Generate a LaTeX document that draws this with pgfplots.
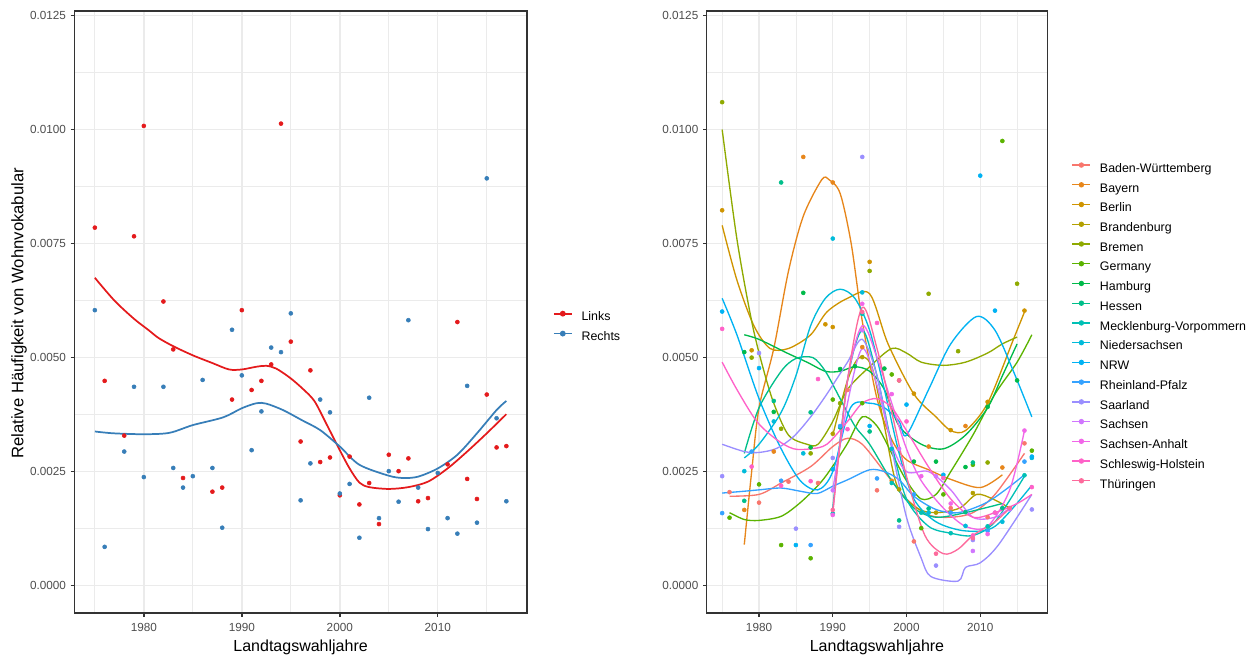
\documentclass[border=0pt]{standalone}
\usepackage{fontspec}
\setmainfont{Liberation Sans}
\usepackage{pgfplots}
\pgfplotsset{compat=1.18}
\definecolor{gridc}{HTML}{EBEBEB}
\definecolor{border}{HTML}{333333}
\definecolor{ticklab}{HTML}{4D4D4D}
\definecolor{linksred}{HTML}{E41A1C}
\definecolor{rechtsblue}{HTML}{377EB8}
\definecolor{c1}{HTML}{F8766D}
\definecolor{c2}{HTML}{E7861B}
\definecolor{c3}{HTML}{CF9400}
\definecolor{c4}{HTML}{B3A000}
\definecolor{c5}{HTML}{8FAA00}
\definecolor{c6}{HTML}{5BB300}
\definecolor{c7}{HTML}{00BA4A}
\definecolor{c8}{HTML}{00BF8A}
\definecolor{c9}{HTML}{00C0B5}
\definecolor{c10}{HTML}{00BBDA}
\definecolor{c11}{HTML}{00B2F3}
\definecolor{c12}{HTML}{35A2FF}
\definecolor{c13}{HTML}{9A8EFF}
\definecolor{c14}{HTML}{D076FE}
\definecolor{c15}{HTML}{F166E8}
\definecolor{c16}{HTML}{FF61C8}
\definecolor{c17}{HTML}{FD6A9C}
\pgfplotsset{
  common/.style={
    anchor=south west, scale only axis, height=451.5pt,
    xmin=1972.9, xmax=2019.1, ymin=-0.0006, ymax=0.0126,
    xtick={1980,1990,2000,2010}, minor xtick={1975,1985,1995,2005,2015},
    ytick={0,0.0025,0.005,0.0075,0.01,0.0125},
    minor ytick={0.00125,0.00375,0.00625,0.00875,0.01125},
    grid=both,
    major grid style={line width=1.07pt, color=gridc},
    minor grid style={line width=0.53pt, color=gridc},
    axis line style={line width=1.07pt, color=border},
    tick align=outside, tick pos=left,
    major tick length=2.75pt, minor tick length=0pt,
    major tick style={line width=1.07pt, color=border},
    scaled y ticks=false,
    /pgf/number format/assume math mode=true,
    yticklabel style={/pgf/number format/.cd, fixed, fixed zerofill, precision=4, /tikz/.cd,
      font=\fontsize{8.8}{10}\selectfont, text=ticklab},
    xticklabel style={/pgf/number format/1000 sep={}, font=\fontsize{8.8}{10}\selectfont, text=ticklab, yshift=-1.1pt},
    xlabel={Landtagswahljahre},
    xlabel style={at={(axis description cs:0.5,0)}, anchor=center, yshift=-25.6pt,
      font=\fontsize{12}{14}\selectfont},
    legend style={draw=none, fill=none, inner sep=0pt, outer sep=0pt, row sep=5.55pt,
      nodes={inner sep=0pt, text height=6.3pt, text depth=1.8pt, font=\fontsize{9.3}{11}\selectfont},
      cells={anchor=west}},
    legend image code/.code={\draw[##1] (0pt,3.2pt) -- (13.5pt,3.2pt); \fill[##1] (6.75pt,3.2pt) circle (1.5pt); \path (20.2pt,3.2pt);},
  },
  pts/.style={only marks, mark=*, mark size=1.5pt, forget plot},
  cur/.style={smooth, no marks, line width=1.0pt},
}
\begin{document}
\begin{tikzpicture}
\useasboundingbox (0,0) rectangle (942pt,492pt);
% ---------------- left panel ----------------
\begin{axis}[common, at={(55.7pt,32.25pt)}, width=339.5pt,
  legend style={at={(1.0574,0.502)}, anchor=north west}]
\addplot[pts, color=linksred] coordinates {
(1975,0.00785) (1976,0.00449) (1978,0.00329) (1979,0.00766) (1980,0.01008) (1982,0.00623)
(1983,0.00518) (1984,0.00236) (1987,0.00206) (1988,0.00215) (1989,0.00408) (1990,0.00604)
(1991,0.00429) (1992,0.00449) (1993,0.00485) (1994,0.01013) (1995,0.00535) (1996,0.00316)
(1997,0.00472) (1998,0.00271) (1999,0.00281) (2000,0.00198) (2001,0.00283) (2002,0.00178)
(2003,0.00225) (2004,0.00135) (2005,0.00287) (2006,0.00251) (2007,0.00279) (2008,0.00185)
(2009,0.00192) (2011,0.00266) (2012,0.00578) (2013,0.00234) (2014,0.00190) (2015,0.00419)
(2016,0.00303) (2017,0.00306)};
\addplot[pts, color=rechtsblue] coordinates {
(1975,0.00604) (1976,0.00085) (1978,0.00294) (1979,0.00436) (1980,0.00238) (1982,0.00436)
(1983,0.00258) (1984,0.00215) (1985,0.00240) (1986,0.00451) (1987,0.00258) (1988,0.00127)
(1989,0.00561) (1990,0.00461) (1991,0.00297) (1992,0.00382) (1993,0.00522) (1994,0.00512)
(1995,0.00597) (1996,0.00187) (1997,0.00268) (1998,0.00408) (1999,0.00380) (2000,0.00202)
(2001,0.00223) (2002,0.00105) (2003,0.00412) (2004,0.00148) (2005,0.00251) (2006,0.00184)
(2007,0.00582) (2008,0.00215) (2009,0.00124) (2010,0.00247) (2011,0.00148) (2012,0.00114)
(2013,0.00438) (2014,0.00138) (2015,0.00893) (2016,0.00367) (2017,0.00185)};
\addplot[cur, line width=1.3pt, color=linksred] coordinates {
(1975,0.00675) (1977,0.00625) (1979,0.00585) (1980.5,0.00560) (1981.5,0.00543) (1983,0.00525)
(1985,0.00505) (1987,0.00488) (1988.7,0.00474) (1990,0.00474) (1991.5,0.00480) (1992.5,0.00482)
(1993.5,0.00476) (1994.9,0.00456) (1996.2,0.00432) (1997.4,0.00405) (1998.6,0.00356) (2000,0.00297)
(2001,0.00257) (2002,0.00226) (2003,0.00216) (2005,0.00212) (2007,0.00216) (2009,0.00228)
(2011,0.00257) (2013,0.00294) (2015,0.00334) (2017,0.00376)};
\addlegendentry{Links}
\addplot[cur, line width=1.3pt, color=rechtsblue] coordinates {
(1975,0.00338) (1976.9,0.00334) (1980,0.00332) (1982.6,0.00335) (1985,0.00352) (1988.1,0.00369)
(1990,0.00389) (1991.5,0.00400) (1992.5,0.00399) (1994.2,0.00385) (1996.2,0.00362) (1998,0.00341)
(2000,0.00305) (2002,0.00265) (2005,0.00241) (2006.5,0.00236) (2008,0.00239) (2010,0.00257)
(2012,0.00287) (2014,0.00334) (2016,0.00385) (2017,0.00405)};
\addlegendentry{Rechts}
\end{axis}
% ---------------- right panel ----------------
\begin{axis}[common, at={(530pt,32.25pt)}, width=255.5pt,
  legend style={at={(1.0716,0.7485)}, anchor=north west}]
% points
\addplot[pts, color=c1] coordinates {(1976,0.00205) (1980,0.00182) (1984,0.00228) (1988,0.00225) (1992,0.00429) (1996,0.00209) (2001,0.00097) (2006,0.0017) (2011,0.0015) (2016,0.00312)};
\addplot[pts, color=c2] coordinates {(1978,0.00166) (1982,0.00294) (1986,0.0094) (1990,0.00884) (1994,0.00523) (1998,0.0023) (2003,0.00305) (2008,0.0035) (2013,0.00259)};
\addplot[pts, color=c3] coordinates {(1975,0.00823) (1979,0.00516) (1989,0.00573) (1990,0.00567) (1995,0.0071) (2001,0.00421) (2006,0.00341) (2011,0.00403) (2016,0.00603)};
\addplot[pts, color=c4] coordinates {(1990,0.00333) (1994,0.00501) (1999,0.00211) (2004,0.0016) (2009,0.00203) (2014,0.0017)};
\addplot[pts, color=c5] coordinates {(1975,0.0106) (1979,0.0050) (1983,0.00344) (1987,0.0029) (1991,0.0040) (1995,0.0069) (1999,0.0045) (2003,0.0064) (2007,0.00514) (2011,0.0027) (2015,0.00662)};
\addplot[pts, color=c6] coordinates {(1976,0.00149) (1980,0.00222) (1983,0.00089) (1987,0.0006) (1990,0.00408) (1994,0.0040) (1998,0.00463) (2002,0.00126) (2005,0.0020) (2009,0.00265) (2013,0.00975) (2017,0.00296)};
\addplot[pts, color=c7] coordinates {(1978,0.00512) (1982,0.00381) (1986,0.00642) (1987,0.00303) (1991,0.00475) (1993,0.00481) (1997,0.00476) (2001,0.00272) (2004,0.00272) (2008,0.0026) (2011,0.00392) (2015,0.0045)};
\addplot[pts, color=c8] coordinates {(1978,0.00186) (1982,0.00405) (1983,0.00884) (1987,0.0038) (1991,0.00347) (1995,0.00338) (1999,0.00143) (2003,0.00169) (2008,0.00161) (2009,0.0027) (2013,0.0017)};
\addplot[pts, color=c9] coordinates {(1990,0.00158) (1994,0.00596) (1998,0.00225) (2002,0.0016) (2006,0.00115) (2011,0.0013) (2016,0.00242)};
\addplot[pts, color=c10] coordinates {(1978,0.00251) (1982,0.0036) (1986,0.0029) (1990,0.00761) (1994,0.00643) (1998,0.0030) (2003,0.0016) (2008,0.00131) (2013,0.0014) (2017,0.0028)};
\addplot[pts, color=c11] coordinates {(1975,0.00601) (1980,0.00477) (1985,0.00089) (1990,0.00255) (1995,0.0035) (2000,0.00397) (2005,0.00243) (2010,0.00899) (2012,0.00603) (2017,0.00283)};
\addplot[pts, color=c12] coordinates {(1975,0.00159) (1979,0.00294) (1983,0.0023) (1987,0.00089) (1991,0.0035) (1996,0.00235) (2001,0.0020) (2006,0.0016) (2011,0.0012) (2016,0.00272)};
\addplot[pts, color=c13] coordinates {(1975,0.0024) (1980,0.0051) (1985,0.00125) (1990,0.0028) (1994,0.0094) (1999,0.00129) (2004,0.00044) (2009,0.0010) (2012,0.0016) (2017,0.00167)};
\addplot[pts, color=c14] coordinates {(1990,0.00209) (1994,0.0056) (1999,0.0030) (2004,0.0024) (2009,0.00076) (2014,0.00167)};
\addplot[pts, color=c15] coordinates {(1990,0.00155) (1994,0.00618) (1998,0.0042) (2002,0.0024) (2006,0.0018) (2011,0.00113) (2016,0.0034)};
\addplot[pts, color=c16] coordinates {(1975,0.00563) (1979,0.00261) (1983,0.00219) (1987,0.00229) (1988,0.00453) (1992,0.00343) (1996,0.00576) (2000,0.0036) (2005,0.00236) (2009,0.0011) (2012,0.0016) (2017,0.00216)};
\addplot[pts, color=c17] coordinates {(1990,0.00166) (1994,0.0060) (1999,0.0045) (2004,0.0007) (2009,0.00104) (2014,0.0017)};
% curves
\addplot[cur, color=c1] coordinates {(1976,0.00196) (1980,0.0020) (1983,0.00225) (1987,0.00261) (1990,0.00305) (1992,0.00323) (1994,0.0031) (1997,0.0025) (2000,0.0019) (2003,0.00155) (2006,0.0015) (2009,0.0016) (2012,0.0020) (2016,0.0029)};
\addlegendentry{Baden-Württemberg}
\addplot[cur, color=c2] coordinates {(1978,0.0009) (1979,0.0025) (1980,0.0039) (1982,0.0052) (1984,0.0069) (1986,0.0081) (1988.5,0.0089) (1989.5,0.0089) (1991,0.0086) (1992.5,0.0075) (1994,0.0058) (1996,0.0041) (1998,0.0032) (2000,0.00276) (2003,0.00254) (2006,0.00233) (2010,0.00215) (2013,0.00243)};
\addlegendentry{Bayern}
\addplot[cur, color=c3] coordinates {(1975,0.0079) (1977,0.0067) (1979.3,0.0057) (1981.5,0.0052) (1984,0.0052) (1987,0.0055) (1989.2,0.0060) (1992,0.0063) (1995,0.0064) (1997.5,0.0053) (2001,0.0042) (2004,0.0037) (2006,0.0034) (2008,0.0034) (2011,0.0040) (2014.5,0.0054) (2016,0.0060)};
\addlegendentry{Berlin}
\addplot[cur, color=c4] coordinates {(1990,0.0033) (1992,0.0045) (1993.6,0.0050) (1995.3,0.0048) (1997,0.0035) (1998.7,0.0022) (2001.4,0.0017) (2004,0.0016) (2007.2,0.0017) (2009.5,0.0020) (2011.7,0.0019) (2014,0.0017)};
\addlegendentry{Brandenburg}
\addplot[cur, color=c5] coordinates {(1975,0.0100) (1977,0.0076) (1979,0.0058) (1980.5,0.0048) (1982,0.0040) (1984,0.0033) (1986.5,0.0031) (1988,0.0031) (1990,0.0036) (1992,0.0043) (1995,0.0048) (1998,0.0052) (2000,0.0051) (2002,0.0049) (2005,0.00483) (2008,0.0049) (2011,0.0051) (2013,0.0053) (2015,0.00545)};
\addlegendentry{Bremen}
\addplot[cur, color=c6] coordinates {(1976,0.0016) (1978,0.00145) (1980,0.00143) (1983,0.00152) (1985.6,0.00182) (1988.3,0.00225) (1990,0.00262) (1992,0.00312) (1994,0.0037) (1996,0.0035) (1998,0.0029) (2000,0.0023) (2002,0.0019) (2004,0.0020) (2006,0.0025) (2009,0.0033) (2012,0.0042) (2015,0.0049) (2017,0.0055)};
\addlegendentry{Germany}
\addplot[cur, color=c7] coordinates {(1978,0.0055) (1980,0.0054) (1983.8,0.0051) (1986.5,0.0049) (1989,0.0047) (1991,0.0047) (1993,0.0048) (1995,0.0047) (1997,0.0043) (1999,0.0035) (2002,0.0031) (2005,0.0030) (2008,0.0033) (2011,0.0039) (2013,0.0046) (2015,0.0053)};
\addlegendentry{Hamburg}
\addplot[cur, color=c8] coordinates {(1978,0.0029) (1980,0.0039) (1983,0.0047) (1985,0.00498) (1987.3,0.0050) (1989,0.0047) (1991,0.0041) (1993,0.0035) (1995,0.0031) (1998,0.0023) (2001,0.0017) (2004,0.0015) (2008,0.0016) (2013,0.0018)};
\addlegendentry{Hessen}
\addplot[cur, color=c9] coordinates {(1990,0.0017) (1992,0.0045) (1994,0.0056) (1996,0.0046) (1998,0.0031) (2000,0.0019) (2003,0.0013) (2006,0.00115) (2009,0.0011) (2012,0.0014) (2016,0.0024)};
\addlegendentry{Mecklenburg-Vorpommern}
\addplot[cur, color=c10] coordinates {(1978,0.0028) (1980,0.0031) (1983,0.0038) (1985,0.0046) (1987,0.0057) (1989,0.0063) (1991,0.0065) (1993,0.0063) (1995,0.0056) (1997,0.0043) (1999,0.0029) (2001,0.0019) (2004,0.0014) (2008,0.0012) (2012,0.0013) (2017,0.0022)};
\addlegendentry{Niedersachsen}
\addplot[cur, color=c11] coordinates {(1975,0.0063) (1977,0.0055) (1980,0.0041) (1983,0.0030) (1985.6,0.0023) (1988,0.0021) (1990,0.0025) (1992.4,0.0039) (1995,0.0040) (1997,0.0039) (1999,0.0036) (2000,0.0033) (2003,0.0043) (2006,0.0053) (2009.5,0.0059) (2012,0.0056) (2014.5,0.0047) (2017,0.0037)};
\addlegendentry{NRW}
\addplot[cur, color=c12] coordinates {(1975,0.00203) (1978,0.00207) (1980,0.0021) (1983,0.00214) (1985.6,0.00207) (1987.9,0.00202) (1990,0.00218) (1992,0.00232) (1995,0.00254) (1997,0.0025) (1999,0.00232) (2001,0.00196) (2004,0.00167) (2007,0.0016) (2010.6,0.0018) (2013.4,0.0021) (2016,0.00243)};
\addlegendentry{Rheinland-Pfalz}
\addplot[cur, color=c13] coordinates {(1975,0.0031) (1978,0.00294) (1980,0.00292) (1982.4,0.00301) (1984.7,0.00327) (1987,0.0037) (1989.2,0.0042) (1992,0.0049) (1994,0.0054) (1996,0.0046) (1998,0.0030) (2000,0.0015) (2002,0.0006) (2003.3,0.0002) (2007,0.0001) (2008,0.0004) (2010,0.0005) (2012.5,0.0009) (2017,0.0020)};
\addlegendentry{Saarland}
\addplot[cur, color=c14] coordinates {(1990,0.0021) (1992,0.0040) (1994,0.0052) (1996,0.0044) (1998,0.0031) (2000,0.0025) (2003,0.0025) (2006,0.0021) (2009,0.0015) (2012,0.0015) (2014,0.0017)};
\addlegendentry{Sachsen}
\addplot[cur, color=c15] coordinates {(1990,0.0016) (1992,0.0045) (1994,0.0057) (1996,0.0050) (1998,0.0040) (2000,0.0030) (2002,0.0023) (2005,0.0017) (2008,0.0013) (2011,0.0013) (2014,0.0021) (2016,0.0034)};
\addlegendentry{Sachsen-Anhalt}
\addplot[cur, color=c16] coordinates {(1975,0.0049) (1977,0.0043) (1979.7,0.0036) (1982.4,0.0032) (1984.7,0.0030) (1987,0.0030) (1989.2,0.0031) (1992,0.0036) (1994,0.0040) (1996,0.0041) (1998,0.0039) (2000,0.0034) (2003,0.0026) (2006,0.0019) (2009,0.0015) (2012,0.0016) (2015,0.0018) (2017,0.0020)};
\addlegendentry{Schleswig-Holstein}
\addplot[cur, color=c17] coordinates {(1990,0.0016) (1992,0.0045) (1994,0.0061) (1996,0.0052) (1998,0.0038) (2000,0.0024) (2002.5,0.0011) (2005,0.0007) (2007,0.0008) (2009,0.0011) (2012,0.0014) (2014,0.0017)};
\addlegendentry{Thüringen}
\end{axis}
\node[rotate=90, font=\fontsize{12.5}{14}\selectfont] at (14.3pt,257pt) {Relative Häufigkeit von Wohnvokabular};
\end{tikzpicture}
\end{document}
